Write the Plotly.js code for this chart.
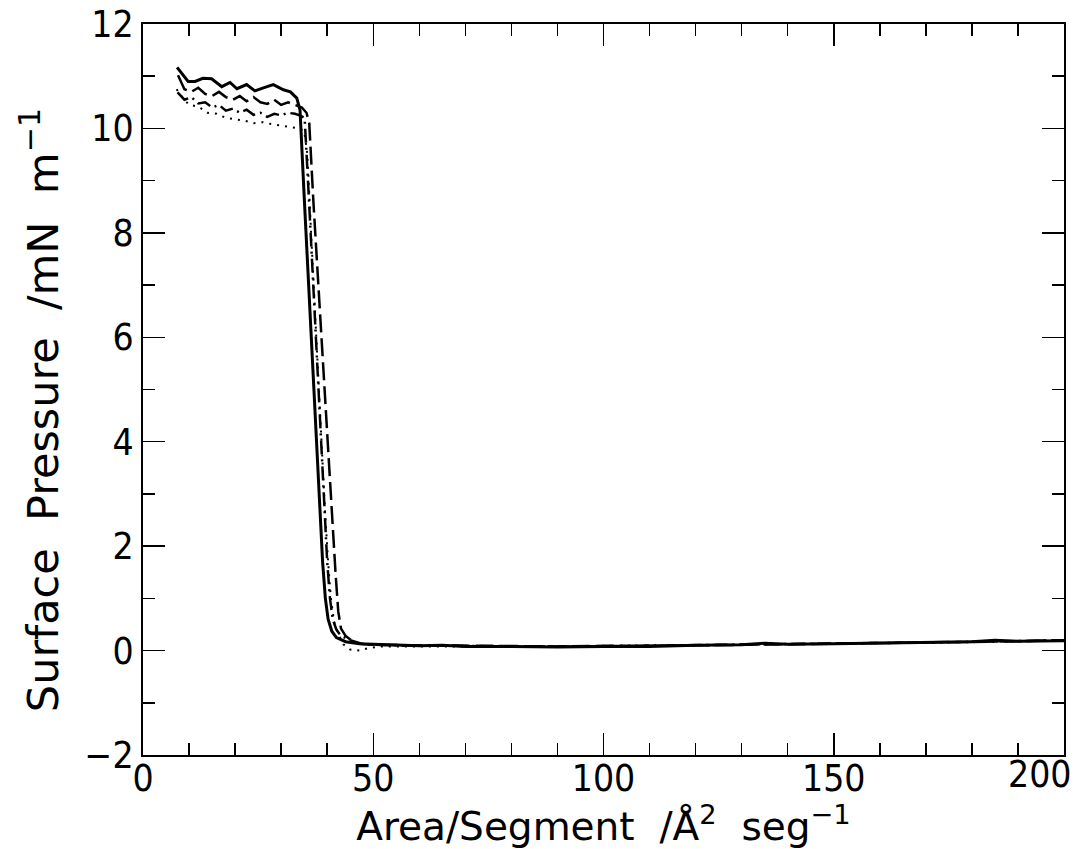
<!DOCTYPE html>
<html><head><meta charset="utf-8">
<script src="https://cdn.plot.ly/plotly-3.0.1.min.js"></script>
<style>body{margin:0;background:#fff}#chart{width:1077px;height:849px}</style>
</head><body><div id="chart"></div>
<script>
// Solid curve
const xSolid = [7.4, 8.5, 9.8, 11.3, 13, 14.9, 17.1, 18.9, 20.4, 22.5, 24.3, 26.3, 28.3, 30.5, 32, 33.4, 34.1, 35, 36, 37, 38, 38.5, 39, 39.6, 40.2, 41, 42, 44, 47, 50, 55, 60, 65, 70, 80, 90, 100, 110, 120, 130, 135, 140, 150, 160, 170, 180, 185, 190, 200];
const ySolid = [11.17, 11.05, 10.9, 10.9, 10.96, 10.95, 10.8, 10.88, 10.76, 10.84, 10.72, 10.78, 10.84, 10.74, 10.7, 10.58, 10.35, 8.7, 6.9, 5.1, 3.4, 2.5, 1.7, 1.0, 0.6, 0.37, 0.25, 0.17, 0.13, 0.12, 0.1, 0.09, 0.1, 0.08, 0.08, 0.07, 0.08, 0.08, 0.1, 0.11, 0.14, 0.12, 0.13, 0.14, 0.15, 0.17, 0.2, 0.18, 0.19];
// Dashed curve
const xDashed = [7.6, 8.3, 9, 10.5, 12, 13.5, 15, 16.5, 18, 19.5, 21, 22.5, 24, 25.5, 27, 28.5, 30, 31.5, 33, 34.5, 35.5, 36.1, 37, 38, 39, 40, 41, 41.8, 42.4, 43, 44, 45.5, 47, 50, 60, 70, 80, 90, 100, 110, 120, 130, 140, 150, 160, 170, 180, 190, 200];
const yDashed = [11.02, 10.9, 10.75, 10.7, 10.78, 10.66, 10.62, 10.7, 10.6, 10.55, 10.62, 10.52, 10.6, 10.5, 10.47, 10.55, 10.45, 10.5, 10.45, 10.4, 10.3, 10.1, 8.6, 7.1, 5.6, 4.1, 2.6, 1.5, 0.75, 0.42, 0.28, 0.18, 0.13, 0.11, 0.1, 0.09, 0.08, 0.08, 0.09, 0.09, 0.1, 0.11, 0.12, 0.13, 0.14, 0.15, 0.16, 0.18, 0.2];
// Dash-dot curve
const xDashDot = [7.5, 9, 10.5, 12, 13.5, 15, 16.5, 18, 19.5, 21, 22.5, 24, 25.5, 27, 28.5, 30, 31.5, 33, 34.3, 35.1, 36, 37, 38, 39, 39.5, 40, 40.6, 41.2, 42, 43, 45, 48, 55, 65, 75, 85, 95, 105, 115, 125, 135, 145, 155, 165, 175, 185, 195, 200];
const yDashDot = [10.69, 10.55, 10.6, 10.48, 10.5, 10.4, 10.45, 10.34, 10.38, 10.3, 10.36, 10.26, 10.3, 10.22, 10.28, 10.25, 10.3, 10.28, 10.24, 10.2, 8.7, 6.9, 5.1, 3.4, 2.5, 1.7, 1.0, 0.6, 0.4, 0.28, 0.2, 0.12, 0.1, 0.09, 0.08, 0.08, 0.08, 0.09, 0.1, 0.11, 0.12, 0.12, 0.13, 0.14, 0.16, 0.17, 0.19, 0.2];
// Dotted curve
const xDotted = [7.3, 8.5, 10, 12, 14, 16, 18, 20, 22, 24, 26, 28, 30, 32, 34, 35, 35.7, 36.5, 37.5, 38.5, 39.5, 40.2, 40.8, 41.5, 42.5, 43.5, 45, 47, 49, 52, 60, 70, 80, 90, 100, 110, 120, 130, 140, 150, 160, 170, 180, 190, 200];
const yDotted = [10.75, 10.6, 10.45, 10.42, 10.3, 10.28, 10.2, 10.18, 10.15, 10.1, 10.12, 10.08, 10.05, 10.02, 10.0, 9.95, 9.5, 8.0, 6.2, 4.4, 2.7, 1.7, 1.0, 0.55, 0.3, 0.12, 0.02, 0.0, 0.05, 0.08, 0.08, 0.07, 0.07, 0.07, 0.08, 0.09, 0.1, 0.11, 0.12, 0.13, 0.14, 0.15, 0.16, 0.18, 0.19];

// Tick labels
const xTickVals = [0, 50, 100, 150, 200];
const xTickText = ['0', '50', '100', '150', ''];
const xEndLabel = '200';

const xTitle = 'Area/Segment&nbsp;&nbsp;/Å<sup>2</sup>&nbsp;&nbsp;seg<sup>−1</sup>';
const yTitle = 'Surface&nbsp;&nbsp;Pressure&nbsp;&nbsp;/mN&nbsp;&nbsp;m<sup>−1</sup>&nbsp;&nbsp;&nbsp;';

const TICKFONT = 'DejaVu Sans Condensed, DejaVu Sans, sans-serif';
const TITLEFONT = 'DejaVu Sans, sans-serif';

const traces = [
  {x: xDotted, y: yDotted, mode: 'lines', line: {color: 'black', width: 2, dash: '2px,6px'}},
  {x: xDashDot, y: yDashDot, mode: 'lines', line: {color: 'black', width: 2.5, dash: '14px,5px,2px,5px'}},
  {x: xDashed, y: yDashed, mode: 'lines', line: {color: 'black', width: 2.5, dash: '18px,6px'}},
  {x: xSolid, y: ySolid, mode: 'lines', line: {color: 'black', width: 3}}
];

const axisCommon = {
  showgrid: false, zeroline: false, showline: true, linewidth: 2, linecolor: 'black',
  mirror: 'ticks', ticks: 'inside', ticklen: 22, tickwidth: 1.5, tickcolor: 'black',
  tickfont: {family: TICKFONT, size: 37, color: 'black'}
};

const layout = {
  width: 1077, height: 849,
  margin: {l: 143, r: 13, t: 24, b: 94},
  paper_bgcolor: 'white', plot_bgcolor: 'white',
  showlegend: false,
  font: {family: TICKFONT, color: 'black'},
  xaxis: Object.assign({}, axisCommon, {
    range: [0, 200], tickmode: 'array', tickvals: xTickVals, ticktext: xTickText,
    ticklabelstandoff: -10,
    minor: {dtick: 10, tick0: 0, ticklen: 12, tickwidth: 1.5, ticks: 'inside', tickcolor: 'black'},
    title: {text: xTitle, font: {family: TITLEFONT, size: 39, color: 'black'}, standoff: 10}
  }),
  yaxis: Object.assign({}, axisCommon, {
    range: [-2, 12], tick0: 0, dtick: 2,
    minor: {dtick: 1, ticklen: 12, tickwidth: 1.5, ticks: 'inside', tickcolor: 'black'},
    title: {text: yTitle, font: {family: TITLEFONT, size: 43, color: 'black'}, standoff: 12}
  }),
  annotations: [{
    text: xEndLabel, x: 200, y: -2, xref: 'x', yref: 'y', showarrow: false,
    xanchor: 'center', yanchor: 'top', xshift: -24, yshift: 4,
    font: {family: TICKFONT, size: 37, color: 'black'}
  }]
};

Plotly.newPlot('chart', traces, layout, {staticPlot: true});
</script></body></html>
